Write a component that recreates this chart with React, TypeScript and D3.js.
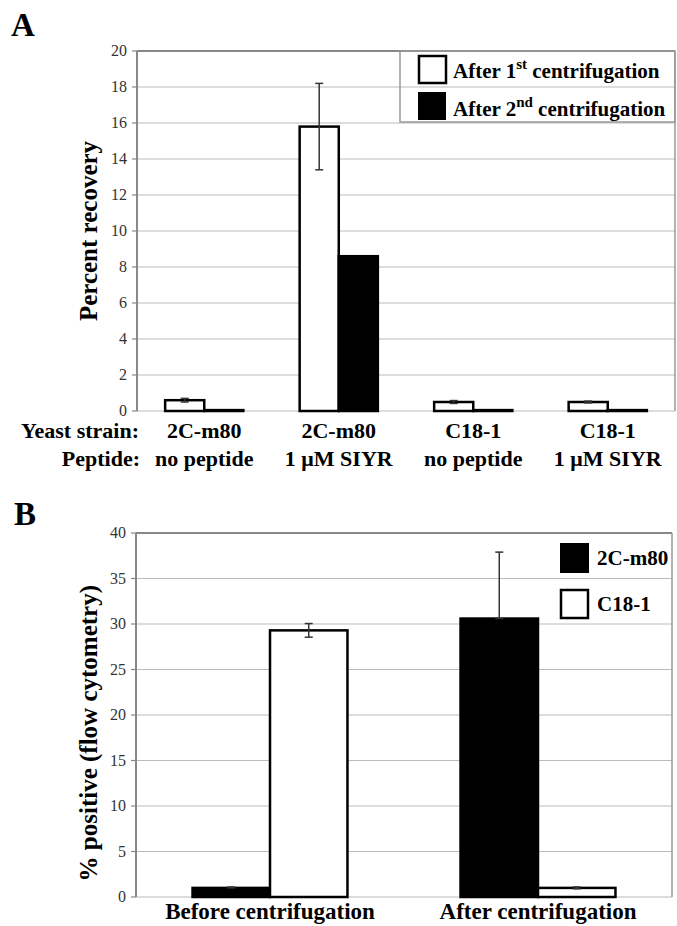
import React from "react";
import * as d3 from "d3";

// Panel A data
const aGroups = ["g1", "g2", "g3", "g4"];
const aStrain = ["2C-m80", "2C-m80", "C18-1", "C18-1"];
const aPeptide = ["no peptide", "1 \u03BCM SIYR", "no peptide", "1 \u03BCM SIYR"];
const aSeries = ["first", "second"];
const aFirst = [0.6, 15.8, 0.5, 0.5];
const aFirstErr = [0.1, 2.4, 0.08, 0.05];
const aSecond = [0.05, 8.6, 0.05, 0.05];
const aTicks = [0, 2, 4, 6, 8, 10, 12, 14, 16, 18, 20];

// Panel B data
const bGroups = ["Before centrifugation", "After centrifugation"];
const bSeries = ["2C-m80", "C18-1"];
const b2C = [1.0, 30.6];
const b2CErr = [0.1, 7.3];
const bC18 = [29.3, 1.0];
const bC18Err = [0.75, 0.1];
const bTicks = [0, 5, 10, 15, 20, 25, 30, 35, 40];

const FONT = '"Liberation Serif", "Times New Roman", Times, serif';

export default function App() {
  const W = 677, H = 926;

  // Panel A scales
  const ax = d3.scaleBand<string>().domain(aGroups).range([137, 675]);
  const ax1 = d3.scaleBand<string>().domain(aSeries).range([0, ax.bandwidth()]).paddingOuter(0.72);
  const ay = d3.scaleLinear().domain([0, 20]).range([411, 51]);

  // Panel B scales
  const bx = d3.scaleBand<string>().domain(bGroups).range([136, 672]);
  const bx1 = d3.scaleBand<string>().domain(bSeries).range([0, bx.bandwidth()]).paddingOuter(0.73);
  const by = d3.scaleLinear().domain([0, 40]).range([897, 533]);

  const errBar = (cx: number, yTop: number, yBot: number, key: string) => (
    <g key={key} stroke="#333" strokeWidth={1.5}>
      <line x1={cx} x2={cx} y1={yTop} y2={yBot} />
      <line x1={cx - 4} x2={cx + 4} y1={yTop} y2={yTop} />
      <line x1={cx - 4} x2={cx + 4} y1={yBot} y2={yBot} />
    </g>
  );

  return (
    <svg width={W} height={H} style={{ position: "absolute", left: 0, top: 0, background: "#fff", fontFamily: FONT }}>
      <rect width={W} height={H} fill="#fff" />
      {/* Panel A */}
      <text x={11} y={36} fontSize={33} fontWeight="bold">A</text>
      {aTicks.map((t) => (
        <g key={"ag" + t}>
          <line x1={137} x2={675} y1={ay(t)} y2={ay(t)} stroke={t === 20 ? "#888" : "#bbb"} strokeWidth={t === 20 ? 2 : 1.2} />
          <line x1={132} x2={137} y1={ay(t)} y2={ay(t)} stroke="#888" strokeWidth={1.2} />
          <text x={127} y={ay(t) + 5} fontSize={16} textAnchor="end" fill="#333">{t}</text>
        </g>
      ))}
      <line x1={137} x2={137} y1={ay(20)} y2={ay(0)} stroke="#888" strokeWidth={2} />
      <line x1={675} x2={675} y1={ay(20)} y2={ay(0)} stroke="#999" strokeWidth={1.5} />
      {/* legend A */}
      <rect x={400} y={51} width={275} height={71} fill="none" stroke="#999" strokeWidth={1.5} />
      <rect x={419} y={56} width={27} height={27} fill="#fff" stroke="#000" strokeWidth={2.5} />
      <rect x={418} y={92} width={28} height={28} fill="#000" />
      <text x={453} y={78} fontSize={21} fontWeight="bold">
        After 1<tspan fontSize={15} dy={-9}>st</tspan><tspan dy={9}> centrifugation</tspan>
      </text>
      <text x={453} y={116} fontSize={21} fontWeight="bold">
        After 2<tspan fontSize={15} dy={-9}>nd</tspan><tspan dy={9}> centrifugation</tspan>
      </text>
      {aGroups.map((g, i) => {
        const x0 = ax(g)!;
        const xa = x0 + ax1("first")!;
        const xb = x0 + ax1("second")!;
        const bw = ax1.bandwidth();
        return (
          <g key={"ab" + g}>
            <rect x={xa} y={ay(aFirst[i])} width={bw} height={ay(0) - ay(aFirst[i])} fill="#fff" stroke="#000" strokeWidth={2.5} />
            <rect x={xb} y={ay(aSecond[i])} width={bw} height={ay(0) - ay(aSecond[i])} fill="#000" stroke="#000" strokeWidth={2.5} />
            {errBar(xa + bw / 2, ay(aFirst[i] + aFirstErr[i]), ay(aFirst[i] - aFirstErr[i]), "ae" + g)}
            <text x={x0 + ax.bandwidth() / 2} y={438} fontSize={22} fontWeight="bold" textAnchor="middle">{aStrain[i]}</text>
            <text x={x0 + ax.bandwidth() / 2} y={466} fontSize={22} fontWeight="bold" textAnchor="middle">{aPeptide[i]}</text>
          </g>
        );
      })}
      <text x={139} y={438} fontSize={22} fontWeight="bold" textAnchor="end">Yeast strain:</text>
      <text x={140} y={466} fontSize={22} fontWeight="bold" textAnchor="end">Peptide:</text>
      <text transform={`translate(97,${ay(10)}) rotate(-90)`} fontSize={25} fontWeight="bold" textAnchor="middle">Percent recovery</text>

      {/* Panel B */}
      <text x={14} y={525} fontSize={33} fontWeight="bold">B</text>
      {bTicks.map((t) => (
        <g key={"bg" + t}>
          <line x1={136} x2={672} y1={by(t)} y2={by(t)} stroke={t === 40 ? "#888" : "#bbb"} strokeWidth={t === 40 ? 2 : 1.2} />
          <line x1={131} x2={136} y1={by(t)} y2={by(t)} stroke="#888" strokeWidth={1.2} />
          <text x={126} y={by(t) + 5} fontSize={16} textAnchor="end" fill="#333">{t}</text>
        </g>
      ))}
      <line x1={136} x2={136} y1={by(40)} y2={by(0)} stroke="#888" strokeWidth={2} />
      <line x1={672} x2={672} y1={by(40)} y2={by(0)} stroke="#999" strokeWidth={1.5} />
      {/* legend B */}
      <rect x={560} y={543} width={29} height={30} fill="#000" />
      <rect x={561} y={590} width={27} height={28} fill="#fff" stroke="#000" strokeWidth={2.5} />
      <text x={597} y={565} fontSize={21} fontWeight="bold">2C-m80</text>
      <text x={597} y={611} fontSize={21} fontWeight="bold">C18-1</text>
      {bGroups.map((g, i) => {
        const x0 = bx(g)!;
        const xa = x0 + bx1("2C-m80")!;
        const xb = x0 + bx1("C18-1")!;
        const bw = bx1.bandwidth();
        return (
          <g key={"bb" + g}>
            <rect x={xa} y={by(b2C[i])} width={bw} height={by(0) - by(b2C[i])} fill="#000" stroke="#000" strokeWidth={2.5} />
            <rect x={xb} y={by(bC18[i])} width={bw} height={by(0) - by(bC18[i])} fill="#fff" stroke="#000" strokeWidth={2.5} />
            {errBar(xa + bw / 2, by(b2C[i] + b2CErr[i]), by(b2C[i]), "be1" + g)}
            {errBar(xb + bw / 2, by(bC18[i] + bC18Err[i]), by(bC18[i] - bC18Err[i]), "be2" + g)}
            <text x={x0 + bx.bandwidth() / 2} y={919} fontSize={23} fontWeight="bold" textAnchor="middle">{g}</text>
          </g>
        );
      })}
      <text transform={`translate(97,${by(18)}) rotate(-90)`} fontSize={25} fontWeight="bold" textAnchor="middle">% positive (flow cytometry)</text>
    </svg>
  );
}
